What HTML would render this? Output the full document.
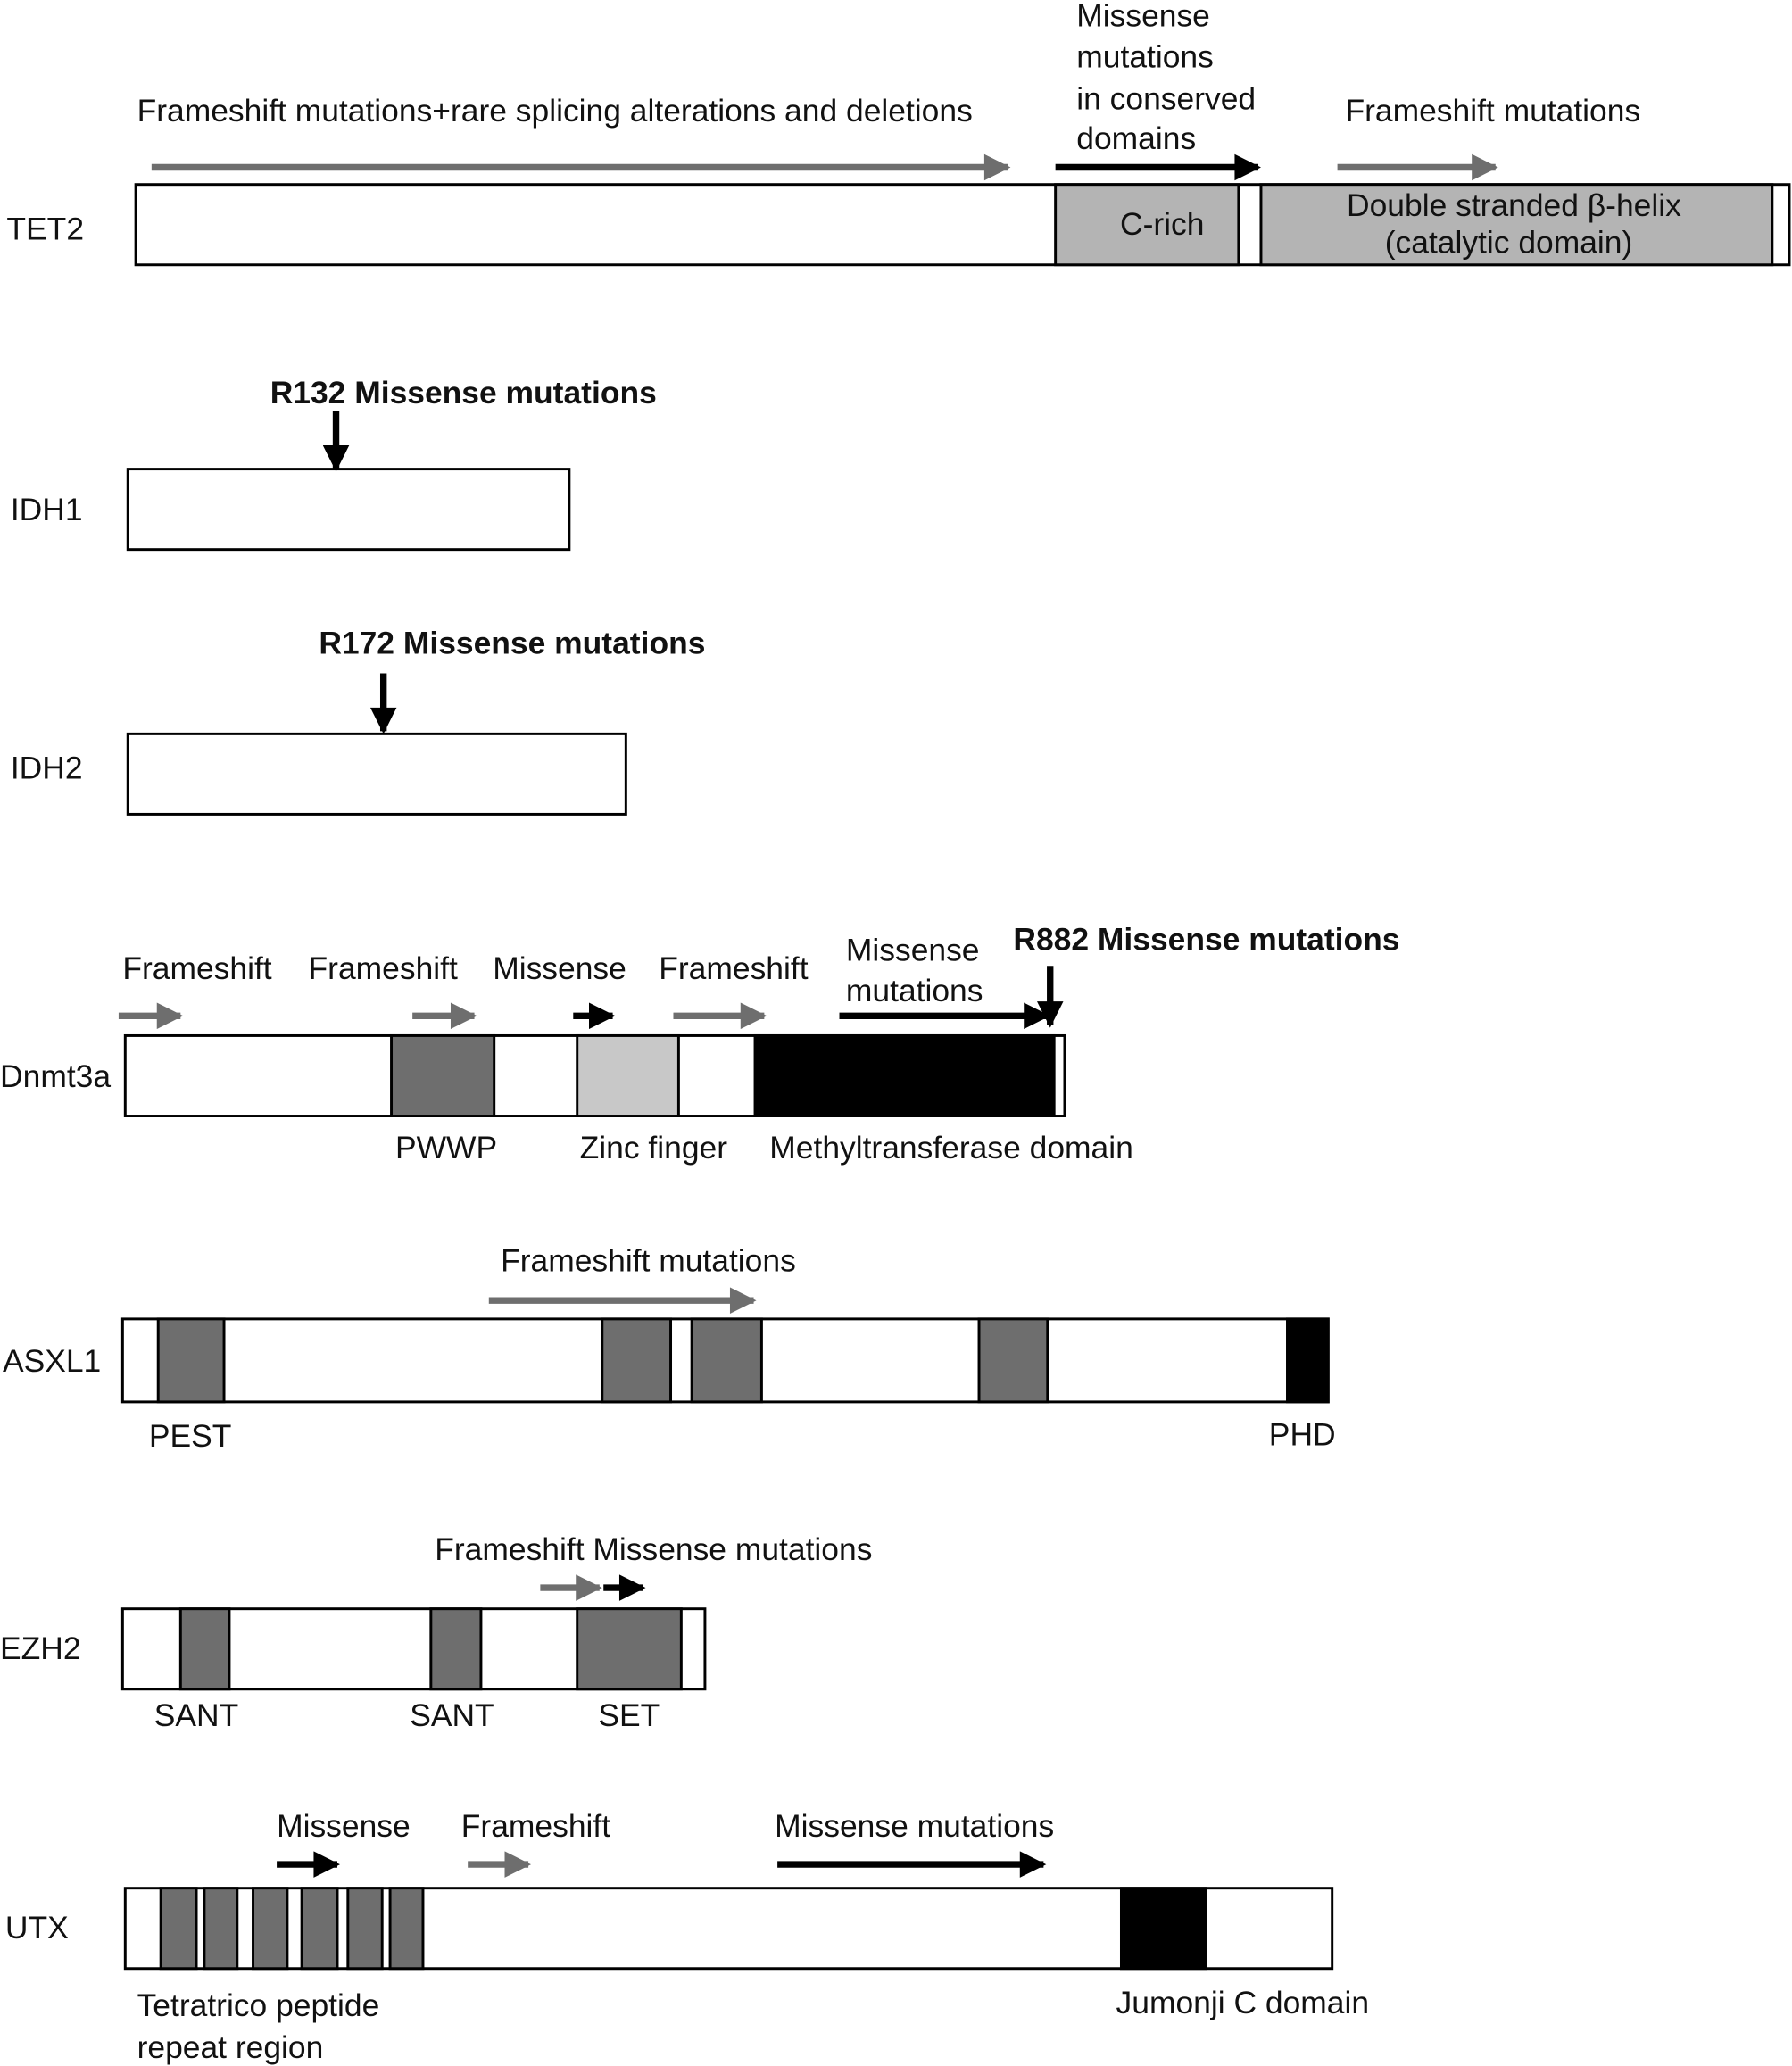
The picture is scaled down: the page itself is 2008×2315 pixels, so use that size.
<!DOCTYPE html>
<html><head><meta charset="utf-8"><style>
html,body{margin:0;padding:0;background:#fff}
svg{display:block}
text{font-family:"Liberation Sans",Arial,sans-serif;font-size:24px;fill:#111}
.b{font-weight:bold}
</style></head><body>
<svg width="2008" height="2315" viewBox="0 0 1360 1568" xmlns="http://www.w3.org/2000/svg">
<defs>
<marker id="ag" viewBox="0 0 10 10" refX="9" refY="5" markerWidth="6" markerHeight="4" orient="auto" markerUnits="strokeWidth"><path d="M0,0L10,5L0,10z" fill="#6e6e6e"/></marker>
<marker id="ak" viewBox="0 0 10 10" refX="9" refY="5" markerWidth="6" markerHeight="4" orient="auto" markerUnits="strokeWidth"><path d="M0,0L10,5L0,10z" fill="#000"/></marker>
</defs>
<g stroke="#000" stroke-width="2">
<!-- TET2 -->
<rect x="103" y="140" width="1255" height="61" fill="#fff"/>
<rect x="801" y="140" width="139" height="61" fill="#b4b4b4"/>
<rect x="957" y="140" width="388" height="61" fill="#b4b4b4"/>
<!-- IDH -->
<rect x="97" y="356" width="335" height="61" fill="#fff"/>
<rect x="97" y="557" width="378" height="61" fill="#fff"/>
<!-- Dnmt3a -->
<rect x="95" y="786" width="713" height="61" fill="#fff"/>
<rect x="297" y="786" width="78" height="61" fill="#6e6e6e"/>
<rect x="438" y="786" width="77" height="61" fill="#c8c8c8"/>
<rect x="573" y="786" width="227" height="61" fill="#000"/>
<!-- ASXL1 -->
<rect x="93" y="1001" width="915" height="63" fill="#fff"/>
<rect x="120" y="1001" width="50" height="63" fill="#6e6e6e"/>
<rect x="457" y="1001" width="52" height="63" fill="#6e6e6e"/>
<rect x="525" y="1001" width="53" height="63" fill="#6e6e6e"/>
<rect x="743" y="1001" width="52" height="63" fill="#6e6e6e"/>
<rect x="977" y="1001" width="31" height="63" fill="#000"/>
<!-- EZH2 -->
<rect x="93" y="1221" width="442" height="61" fill="#fff"/>
<rect x="137" y="1221" width="37" height="61" fill="#6e6e6e"/>
<rect x="327" y="1221" width="38" height="61" fill="#6e6e6e"/>
<rect x="438" y="1221" width="79" height="61" fill="#6e6e6e"/>
<!-- UTX -->
<rect x="95" y="1433" width="916" height="61" fill="#fff"/>
<rect x="122" y="1433" width="27" height="61" fill="#6e6e6e"/>
<rect x="155" y="1433" width="25" height="61" fill="#6e6e6e"/>
<rect x="192" y="1433" width="26" height="61" fill="#6e6e6e"/>
<rect x="229" y="1433" width="27" height="61" fill="#6e6e6e"/>
<rect x="264" y="1433" width="26" height="61" fill="#6e6e6e"/>
<rect x="296" y="1433" width="25" height="61" fill="#6e6e6e"/>
<rect x="851" y="1433" width="64" height="61" fill="#000"/>
</g>
<g stroke-width="5" fill="none">
<line x1="115" y1="127" x2="765" y2="127" stroke="#6e6e6e" marker-end="url(#ag)"/>
<line x1="801" y1="127" x2="955" y2="127" stroke="#000" marker-end="url(#ak)"/>
<line x1="1015" y1="127" x2="1135" y2="127" stroke="#6e6e6e" marker-end="url(#ag)"/>
<line x1="90" y1="771" x2="137" y2="771" stroke="#6e6e6e" marker-end="url(#ag)"/>
<line x1="313" y1="771" x2="360" y2="771" stroke="#6e6e6e" marker-end="url(#ag)"/>
<line x1="435" y1="771" x2="465" y2="771" stroke="#000" marker-end="url(#ak)"/>
<line x1="511" y1="771" x2="580" y2="771" stroke="#6e6e6e" marker-end="url(#ag)"/>
<line x1="637" y1="771" x2="795" y2="771" stroke="#000" marker-end="url(#ak)"/>
<line x1="371" y1="987" x2="572" y2="987" stroke="#6e6e6e" marker-end="url(#ag)"/>
<line x1="410" y1="1205" x2="455" y2="1205" stroke="#6e6e6e" marker-end="url(#ag)"/>
<line x1="458" y1="1205" x2="488" y2="1205" stroke="#000" marker-end="url(#ak)"/>
<line x1="210" y1="1415" x2="256" y2="1415" stroke="#000" marker-end="url(#ak)"/>
<line x1="355" y1="1415" x2="401" y2="1415" stroke="#6e6e6e" marker-end="url(#ag)"/>
<line x1="590" y1="1415" x2="792" y2="1415" stroke="#000" marker-end="url(#ak)"/>
<line x1="255" y1="312" x2="255" y2="356" stroke="#000" marker-end="url(#ak)"/>
<line x1="291" y1="511" x2="291" y2="555" stroke="#000" marker-end="url(#ak)"/>
<line x1="797" y1="733" x2="797" y2="778" stroke="#000" marker-end="url(#ak)"/>
</g>
<text x="104" y="92">Frameshift mutations+rare splicing alterations and deletions</text>
<text x="817" y="20">Missense</text>
<text x="817" y="51">mutations</text>
<text x="817" y="83">in conserved</text>
<text x="817" y="113">domains</text>
<text x="1021" y="92">Frameshift mutations</text>
<text x="850" y="178">C-rich</text>
<text x="1149" y="164" text-anchor="middle">Double stranded β-helix</text>
<text x="1145" y="192" text-anchor="middle">(catalytic domain)</text>
<text x="5" y="182">TET2</text>
<text x="205" y="306" class="b">R132 Missense mutations</text>
<text x="8" y="395">IDH1</text>
<text x="242" y="496" class="b">R172 Missense mutations</text>
<text x="8" y="591">IDH2</text>
<text x="93" y="743">Frameshift</text>
<text x="234" y="743">Frameshift</text>
<text x="374" y="743">Missense</text>
<text x="500" y="743">Frameshift</text>
<text x="642" y="729">Missense</text>
<text x="642" y="760">mutations</text>
<text x="769" y="721" class="b">R882 Missense mutations</text>
<text x="0" y="825">Dnmt3a</text>
<text x="300" y="879">PWWP</text>
<text x="440" y="879">Zinc finger</text>
<text x="584" y="879">Methyltransferase domain</text>
<text x="380" y="965">Frameshift mutations</text>
<text x="2" y="1041">ASXL1</text>
<text x="113" y="1098">PEST</text>
<text x="963" y="1097">PHD</text>
<text x="330" y="1184">Frameshift Missense mutations</text>
<text x="0" y="1259">EZH2</text>
<text x="117" y="1310">SANT</text>
<text x="311" y="1310">SANT</text>
<text x="454" y="1310">SET</text>
<text x="210" y="1394">Missense</text>
<text x="350" y="1394">Frameshift</text>
<text x="588" y="1394">Missense mutations</text>
<text x="4" y="1471">UTX</text>
<text x="104" y="1530">Tetratrico peptide</text>
<text x="104" y="1562">repeat region</text>
<text x="847" y="1528">Jumonji C domain</text>
</svg>
</body></html>
